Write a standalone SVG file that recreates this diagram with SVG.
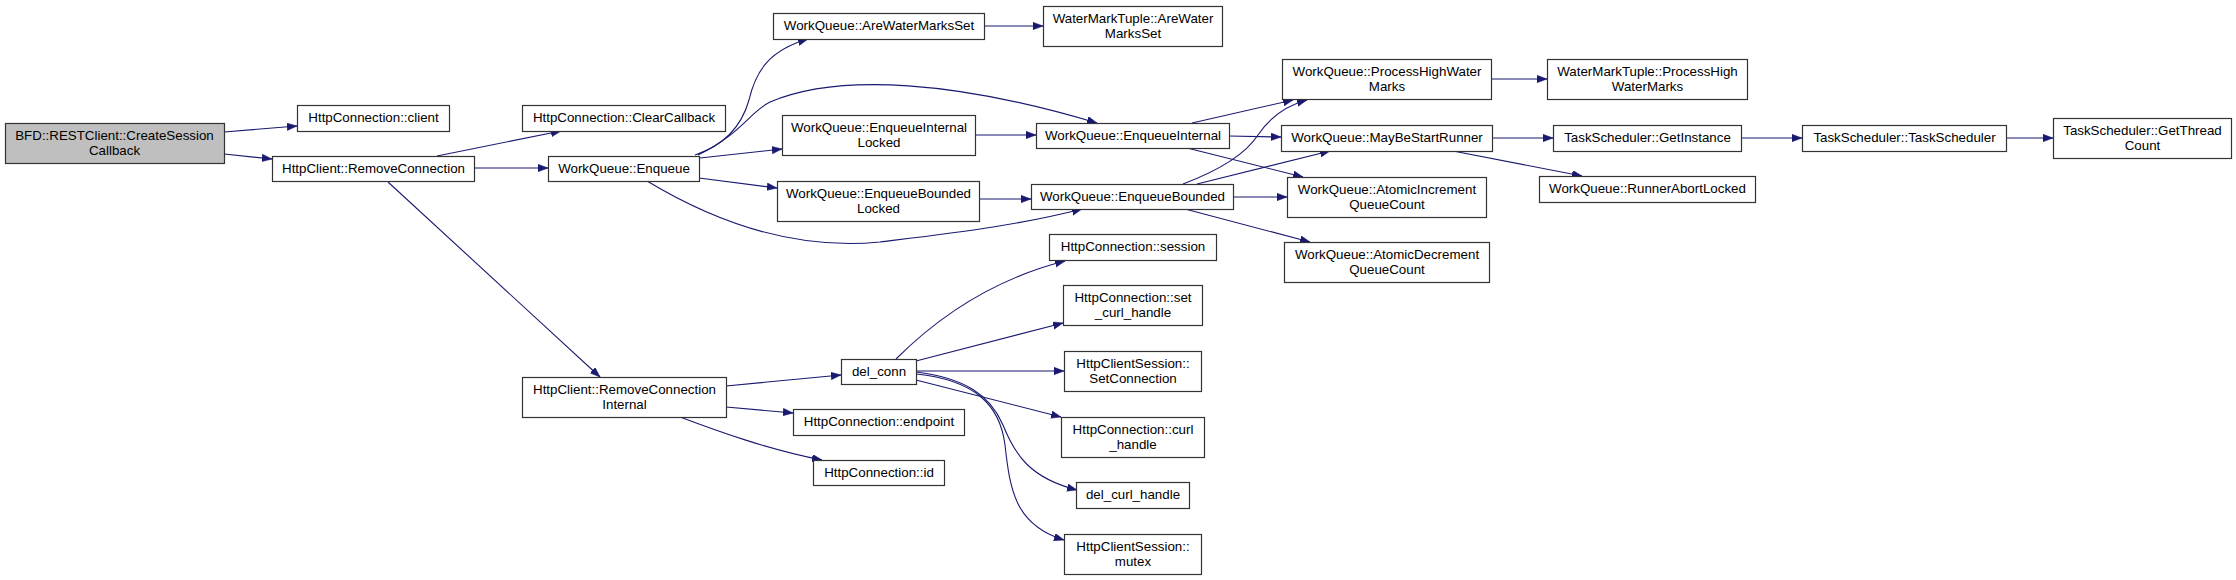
<svg xmlns="http://www.w3.org/2000/svg" width="2236" height="580" viewBox="0 0 2236 580">
<style>
.n rect{fill:#fff;stroke:#333;stroke-width:1.2}
.n rect.root{fill:#bfbfbf}
.n text{font-family:"Liberation Sans",Arial,sans-serif;font-size:13.33px;fill:#000;text-anchor:middle}
.e path{fill:none;stroke:#191970;stroke-width:1.1;marker-end:url(#ah)}
</style>
<defs>
<marker id="ah" markerUnits="userSpaceOnUse" markerWidth="11" markerHeight="8" refX="10" refY="3.75" orient="auto">
<path d="M0,0 L10,3.75 L0,7.5 z" fill="#191970" stroke="#191970" stroke-width="0.5"/>
</marker>
</defs>
<rect width="2236" height="580" fill="#fff"/>
<g class="e" id="edges">
<path d="M224,132 L297,126"/>
<path d="M224,154 L272,159"/>
<path d="M437,156 L561,131"/>
<path d="M474,168 L548,168"/>
<path d="M388,182 L600,377"/>
<path d="M695,155 C725,145 742,125 749,100 C756,70 770,50 808,39"/>
<path d="M698,155 C740,135 750,112 770,102 C840,72 960,82 1097,123"/>
<path d="M700,158 L782,149"/>
<path d="M699,178 L777,188"/>
<path d="M647,181 C720,225 800,250 880,242 C960,232 1020,225 1082,209"/>
<path d="M975,135 L1036,135"/>
<path d="M979,199 L1031,199"/>
<path d="M984,26 L1043,26"/>
<path d="M1192,123 L1293,100"/>
<path d="M1183,184 C1220,170 1245,155 1258,135 C1270,117 1285,106 1307,100"/>
<path d="M1229,136 L1281,137"/>
<path d="M1197,184 L1330,151"/>
<path d="M1187,148 L1303,177"/>
<path d="M1233,197 L1287,197"/>
<path d="M1185,209 L1310,242"/>
<path d="M1491,79 L1547,79"/>
<path d="M1492,138 L1553,138"/>
<path d="M1453,151 L1582,176"/>
<path d="M1741,138 L1802,138"/>
<path d="M2006,138 L2053,138"/>
<path d="M726,386 L841,375"/>
<path d="M726,407 L793,413"/>
<path d="M680,417 C720,432 770,450 822,460"/>
<path d="M896,359 C935,320 990,280 1065,261"/>
<path d="M916,361 L1063,323"/>
<path d="M916,371 L1064,371"/>
<path d="M916,380 L1061,417"/>
<path d="M916,372 C965,378 990,395 1003,425 C1015,455 1030,478 1077,490"/>
<path d="M916,374 C975,380 1000,405 1005,445 C1010,490 1015,525 1064,540"/>
</g>
<g class="n" id="n_bfd"><rect class="root" x="5.5" y="123.5" width="219" height="40"/><text x="114.5" y="139.5">BFD::RESTClient::CreateSession</text><text x="114.5" y="154.5">Callback</text></g>
<g class="n" id="n_client"><rect x="297.5" y="105.5" width="152" height="26"/><text x="373.5" y="121.5">HttpConnection::client</text></g>
<g class="n" id="n_removeconn"><rect x="272.5" y="156.5" width="202" height="25"/><text x="373.5" y="172.5">HttpClient::RemoveConnection</text></g>
<g class="n" id="n_clearcb"><rect x="522.5" y="105.5" width="203" height="26"/><text x="624" y="121.5">HttpConnection::ClearCallback</text></g>
<g class="n" id="n_enqueue"><rect x="548.5" y="156.5" width="151" height="25"/><text x="624" y="172.5">WorkQueue::Enqueue</text></g>
<g class="n" id="n_rci"><rect x="522.5" y="377.5" width="204" height="40"/><text x="624.5" y="393.5">HttpClient::RemoveConnection</text><text x="624.5" y="408.5">Internal</text></g>
<g class="n" id="n_awms"><rect x="773.5" y="13.5" width="211" height="26"/><text x="879" y="29.5">WorkQueue::AreWaterMarksSet</text></g>
<g class="n" id="n_eil"><rect x="782.5" y="115.5" width="193" height="40"/><text x="879" y="131.5">WorkQueue::EnqueueInternal</text><text x="879" y="146.5">Locked</text></g>
<g class="n" id="n_ebl"><rect x="777.5" y="181.5" width="202" height="40"/><text x="878.5" y="197.5">WorkQueue::EnqueueBounded</text><text x="878.5" y="212.5">Locked</text></g>
<g class="n" id="n_delconn"><rect x="841.5" y="359.5" width="75" height="25"/><text x="879" y="375.5">del_conn</text></g>
<g class="n" id="n_endpoint"><rect x="793.5" y="409.5" width="171" height="26"/><text x="879" y="425.5">HttpConnection::endpoint</text></g>
<g class="n" id="n_id"><rect x="813.5" y="460.5" width="131" height="25"/><text x="879" y="476.5">HttpConnection::id</text></g>
<g class="n" id="n_wmt_awms"><rect x="1043.5" y="6.5" width="179" height="40"/><text x="1133" y="22.5">WaterMarkTuple::AreWater</text><text x="1133" y="37.5">MarksSet</text></g>
<g class="n" id="n_einternal"><rect x="1036.5" y="123.5" width="193" height="25"/><text x="1133" y="139.5">WorkQueue::EnqueueInternal</text></g>
<g class="n" id="n_ebounded"><rect x="1031.5" y="184.5" width="202" height="25"/><text x="1132.5" y="200.5">WorkQueue::EnqueueBounded</text></g>
<g class="n" id="n_session"><rect x="1049.5" y="234.5" width="167" height="26"/><text x="1133" y="250.5">HttpConnection::session</text></g>
<g class="n" id="n_setcurl"><rect x="1063.5" y="285.5" width="139" height="40"/><text x="1133" y="301.5">HttpConnection::set</text><text x="1133" y="316.5">_curl_handle</text></g>
<g class="n" id="n_setconn"><rect x="1064.5" y="351.5" width="137" height="40"/><text x="1133" y="367.5">HttpClientSession::</text><text x="1133" y="382.5">SetConnection</text></g>
<g class="n" id="n_curlhandle"><rect x="1061.5" y="417.5" width="143" height="40"/><text x="1133" y="433.5">HttpConnection::curl</text><text x="1133" y="448.5">_handle</text></g>
<g class="n" id="n_delcurl"><rect x="1076.5" y="482.5" width="113" height="26"/><text x="1133" y="498.5">del_curl_handle</text></g>
<g class="n" id="n_mutex"><rect x="1064.5" y="534.5" width="137" height="40"/><text x="1133" y="550.5">HttpClientSession::</text><text x="1133" y="565.5">mutex</text></g>
<g class="n" id="n_phwm"><rect x="1282.5" y="59.5" width="209" height="40"/><text x="1387" y="75.5">WorkQueue::ProcessHighWater</text><text x="1387" y="90.5">Marks</text></g>
<g class="n" id="n_mbsr"><rect x="1281.5" y="125.5" width="211" height="26"/><text x="1387" y="141.5">WorkQueue::MayBeStartRunner</text></g>
<g class="n" id="n_aiqc"><rect x="1287.5" y="177.5" width="199" height="40"/><text x="1387" y="193.5">WorkQueue::AtomicIncrement</text><text x="1387" y="208.5">QueueCount</text></g>
<g class="n" id="n_adqc"><rect x="1284.5" y="242.5" width="205" height="40"/><text x="1387" y="258.5">WorkQueue::AtomicDecrement</text><text x="1387" y="273.5">QueueCount</text></g>
<g class="n" id="n_wmt_phwm"><rect x="1547.5" y="59.5" width="200" height="40"/><text x="1647.5" y="75.5">WaterMarkTuple::ProcessHigh</text><text x="1647.5" y="90.5">WaterMarks</text></g>
<g class="n" id="n_getinstance"><rect x="1553.5" y="125.5" width="188" height="26"/><text x="1647.5" y="141.5">TaskScheduler::GetInstance</text></g>
<g class="n" id="n_runnerabort"><rect x="1539.5" y="176.5" width="216" height="26"/><text x="1647.5" y="192.5">WorkQueue::RunnerAbortLocked</text></g>
<g class="n" id="n_tasksched"><rect x="1802.5" y="125.5" width="204" height="26"/><text x="1904.5" y="141.5">TaskScheduler::TaskScheduler</text></g>
<g class="n" id="n_gtc"><rect x="2053.5" y="118.5" width="178" height="40"/><text x="2142.5" y="134.5">TaskScheduler::GetThread</text><text x="2142.5" y="149.5">Count</text></g>
</svg>
